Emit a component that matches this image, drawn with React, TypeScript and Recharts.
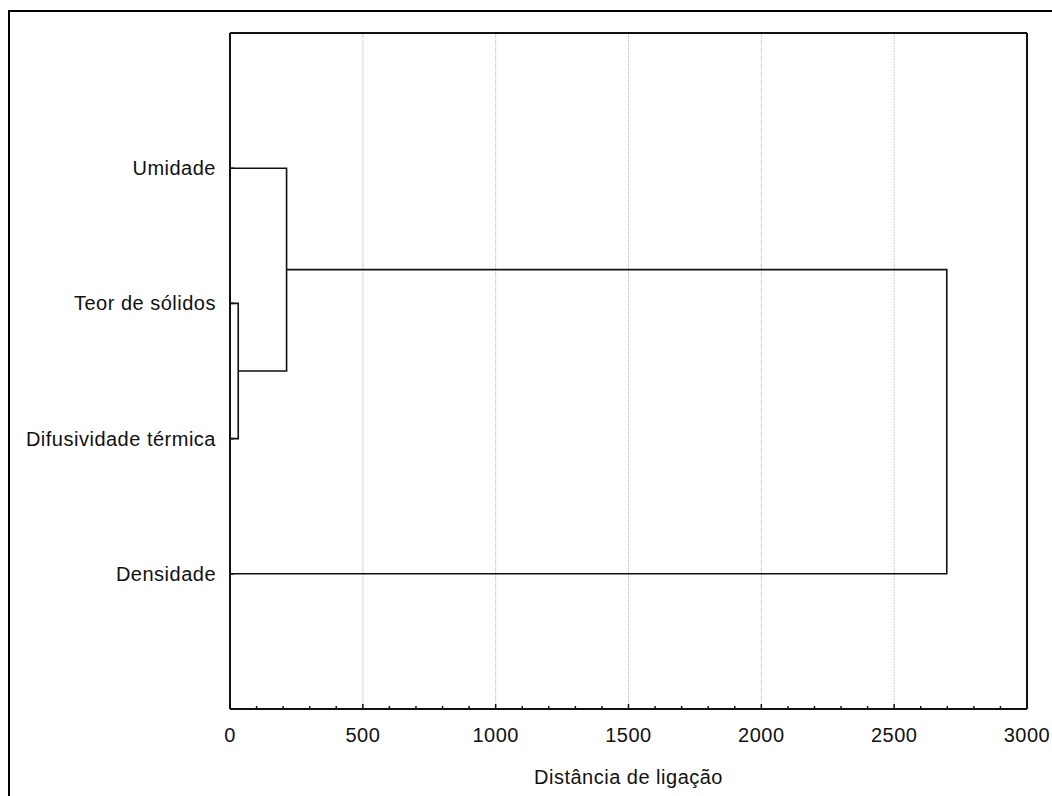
import React from 'react';
import { ComposedChart, XAxis, YAxis, Line, ReferenceLine } from 'recharts';

// Leaves of the dendrogram (top to bottom) and their positions on the vertical axis
const categories = ['Umidade', 'Teor de sólidos', 'Difusividade térmica', 'Densidade'];
const categoryPositions = [1, 2, 3, 4];

// Agglomeration steps: nodes 0..3 are leaves, new clusters get ids 4, 5, 6
const mergeLeft = [1, 0, 5];
const mergeRight = [2, 4, 3];
const mergeDistances = [31, 213, 2698];

// Axis ticks
const xTicks = [
  0, 100, 200, 300, 400, 500, 600, 700, 800, 900, 1000, 1100, 1200, 1300, 1400, 1500,
  1600, 1700, 1800, 1900, 2000, 2100, 2200, 2300, 2400, 2500, 2600, 2700, 2800, 2900, 3000,
];
const xTickLabels = [0, 500, 1000, 1500, 2000, 2500, 3000];
const gridValues = [500, 1000, 1500, 2000, 2500];
const xDomain = [0, 3000];
const yDomain = [0, 5];
const xTitle = 'Distância de ligação';

const FONT = '"Liberation Sans", Arial, sans-serif';
const INK = '#111';

// Build the bracket paths of the dendrogram from the linkage arrays
const nodeHeight: number[] = categoryPositions.map(() => 0);
const nodePos: number[] = [...categoryPositions];
const brackets: { x: number; y: number }[][] = [];
mergeDistances.forEach((d, i) => {
  const a = mergeLeft[i];
  const b = mergeRight[i];
  brackets.push([
    { x: nodeHeight[a], y: nodePos[a] },
    { x: d, y: nodePos[a] },
    { x: d, y: nodePos[b] },
    { x: nodeHeight[b], y: nodePos[b] },
  ]);
  nodeHeight.push(d);
  nodePos.push((nodePos[a] + nodePos[b]) / 2);
});

const BottomTick = (props: any) => {
  const { x, y, payload } = props;
  const v = payload.value;
  const major = xTickLabels.includes(v);
  return (
    <g>
      <line x1={x} x2={x} y1={y} y2={y - (major ? 5 : 3)} stroke={INK} strokeWidth={1.5} />
      {major && (
        <text x={x} y={y + 33} textAnchor="middle" fontSize={20} letterSpacing={0.5} fontFamily={FONT} fill={INK}>
          {v}
        </text>
      )}
    </g>
  );
};

const TopTick = (props: any) => {
  const { x, y, payload } = props;
  const major = xTickLabels.includes(payload.value);
  return <line x1={x} x2={x} y1={y} y2={y + (major ? 5 : 3)} stroke={INK} strokeWidth={1.5} />;
};

const LeftTick = (props: any) => {
  const { x, y, payload } = props;
  const idx = categoryPositions.indexOf(payload.value);
  return (
    <g>
      <line x1={x} x2={x + 4} y1={y} y2={y} stroke={INK} strokeWidth={1.5} />
      <text x={x - 14} y={y + 7} textAnchor="end" fontSize={20} letterSpacing={0.5} fontFamily={FONT} fill={INK}>
        {idx >= 0 ? categories[idx] : ''}
      </text>
    </g>
  );
};

const RightTick = (props: any) => {
  const { x, y } = props;
  return <line x1={x} x2={x - 4} y1={y} y2={y} stroke={INK} strokeWidth={1.5} />;
};

export default function App() {
  return (
    <div style={{ position: 'absolute', left: 0, top: 0, width: 1052, height: 796, background: '#fff', overflow: 'hidden' }}>
      <div
        style={{
          position: 'absolute',
          left: 8,
          top: 10,
          width: 1100,
          height: 900,
          borderLeft: '2px solid #000',
          borderTop: '2px solid #000',
        }}
      />
      <div style={{ position: 'absolute', left: 0, top: 0 }}>
        <ComposedChart width={1052} height={796} margin={{ top: 0, right: 0, bottom: 0, left: 0 }}>
          <XAxis
            xAxisId="bottom"
            dataKey="x"
            type="number"
            domain={xDomain}
            ticks={xTicks}
            interval={0}
            height={87}
            tickSize={0}
            tickMargin={0}
            tickLine={false}
            axisLine={{ stroke: INK, strokeWidth: 2 }}
            tick={<BottomTick />}
            label={{
              value: xTitle,
              position: 'insideBottom',
              offset: 12,
              fontSize: 20,
              fill: INK,
              fontFamily: FONT,
              letterSpacing: 0.5,
            }}
          />
          <XAxis
            xAxisId="top"
            orientation="top"
            dataKey="x"
            type="number"
            domain={xDomain}
            ticks={xTicks}
            interval={0}
            height={33}
            tickSize={0}
            tickMargin={0}
            tickLine={false}
            axisLine={{ stroke: INK, strokeWidth: 2 }}
            tick={<TopTick />}
          />
          <YAxis
            yAxisId="left"
            type="number"
            domain={yDomain}
            reversed
            ticks={categoryPositions}
            interval={0}
            width={230}
            tickSize={0}
            tickMargin={0}
            tickLine={false}
            axisLine={{ stroke: INK, strokeWidth: 2 }}
            tick={<LeftTick />}
          />
          <YAxis
            yAxisId="right"
            orientation="right"
            type="number"
            domain={yDomain}
            reversed
            ticks={categoryPositions}
            interval={0}
            width={25}
            tickSize={0}
            tickMargin={0}
            tickLine={false}
            axisLine={{ stroke: INK, strokeWidth: 2 }}
            tick={<RightTick />}
          />
          {gridValues.map((v) => (
            <ReferenceLine
              key={v}
              x={v}
              xAxisId="bottom"
              yAxisId="left"
              stroke="#b4b4b4"
              strokeDasharray="1 1"
              strokeWidth={1}
              ifOverflow="visible"
            />
          ))}
          {brackets.map((b, i) => (
            <Line
              key={i}
              data={b}
              dataKey="y"
              xAxisId="bottom"
              yAxisId="left"
              type="linear"
              stroke={INK}
              strokeWidth={1.6}
              dot={false}
              activeDot={false}
              isAnimationActive={false}
              strokeLinejoin="miter"
            />
          ))}
        </ComposedChart>
      </div>
    </div>
  );
}
